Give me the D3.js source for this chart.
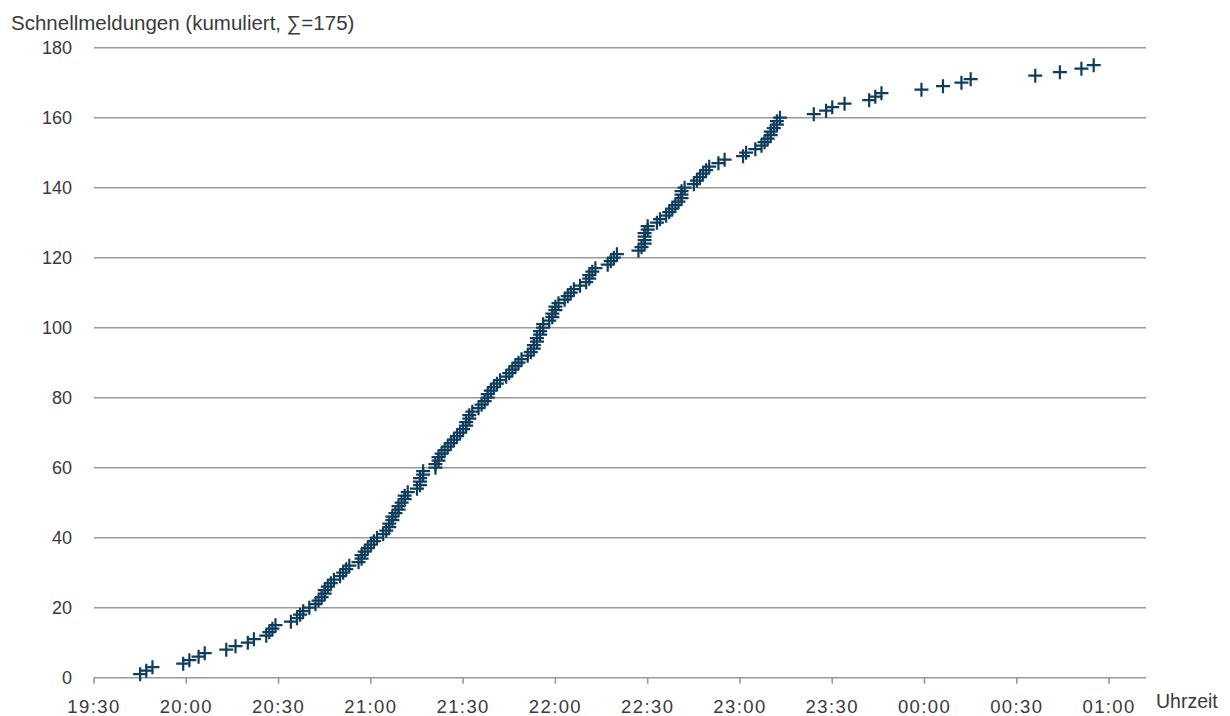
<!DOCTYPE html>
<html>
<head>
<meta charset="utf-8">
<script src="https://cdn.jsdelivr.net/npm/d3@7"></script>
<style>
  body { margin: 0; background: #fff; }
  text { font-family: "Liberation Sans", Arial, sans-serif; fill: #3a3a3a; }
</style>
</head>
<body>
<svg id="chart" width="1230" height="716"></svg>
<script>
//=================================
//  Data
//=================================

//Time of each Schnellmeldung, in order (HH:MM, after midnight = next day)
var reportTimes = [
  "19:45","19:47","19:49","19:59","20:01","20:04","20:06","20:13","20:16","20:20",
  "20:22","20:26","20:27","20:28","20:29","20:34","20:36","20:37","20:38","20:40",
  "20:42","20:43","20:44","20:45","20:45","20:46","20:47","20:48","20:50","20:51",
  "20:52","20:53","20:56","20:57","20:57","20:58","20:59","21:00","21:01","21:02",
  "21:04","21:05","21:06","21:06","21:07","21:07","21:08","21:09","21:09","21:10",
  "21:11","21:11","21:12","21:15","21:16","21:16","21:16","21:17","21:17","21:21",
  "21:21","21:22","21:22","21:23","21:24","21:25","21:26","21:27","21:28","21:29",
  "21:30","21:31","21:31","21:32","21:32","21:33","21:35","21:36","21:37","21:38",
  "21:38","21:39","21:40","21:41","21:42","21:44","21:45","21:46","21:47","21:48",
  "21:49","21:51","21:52","21:53","21:53","21:54","21:54","21:55","21:55","21:56",
  "21:56","21:58","21:59","21:59","22:00","22:00","22:01","22:03","22:04","22:05",
  "22:06","22:08","22:10","22:11","22:11","22:12","22:13","22:17","22:18","22:19",
  "22:20","22:27","22:28","22:29","22:29","22:29","22:29","22:30","22:30","22:33",
  "22:34","22:36","22:37","22:38","22:39","22:40","22:41","22:41","22:41","22:42",
  "22:45","22:46","22:47","22:48","22:49","22:50","22:53","22:55","23:01","23:02",
  "23:05","23:07","23:08","23:09","23:10","23:10","23:11","23:12","23:12","23:13",
  "23:24","23:28","23:30","23:34","23:42","23:44","23:46","23:59","00:06","00:12",
  "00:15","00:36","00:44","00:51","00:55"
];

var yTicks = [0, 20, 40, 60, 80, 100, 120, 140, 160, 180];
var xTickLabels = ["19:30","20:00","20:30","21:00","21:30","22:00","22:30","23:00","23:30","00:00","00:30","01:00"];
var xRange = ["19:30", "01:12"];//Axis runs a bit past the last label

var titleText = "Schnellmeldungen (kumuliert, \u2211=175)";
var xAxisTitle = "Uhrzeit";

//=================================
//  Helpers
//=================================

//Minutes since midnight, times before noon belong to the next day
function toMinutes(s) {
  var p = s.split(":");
  var m = +p[0] * 60 + +p[1];
  if (m < 12 * 60) m += 24 * 60;
  return m;
}

//Cumulative count: the n-th report sits at height n
var points = reportTimes.map(function(t, i) {
  return { t: toMinutes(t), n: i + 1 };
});

//=================================
//  Canvas and scales
//=================================

var width = 1230, height = 716;
var margin = { top: 47.7, right: 84, bottom: 38.3, left: 94 };

var svg = d3.select("#chart");

var x = d3.scaleLinear()
  .domain(xRange.map(toMinutes))
  .range([margin.left, width - margin.right]);

var y = d3.scaleLinear()
  .domain([0, 180])
  .range([height - margin.bottom, margin.top]);

var gridColor = "#999";
var markColor = "#0f3d5e";

//Horizontal gridlines (0 line doubles as the x axis)
svg.append("g")
  .selectAll("line")
  .data(yTicks)
  .join("line")
    .attr("x1", x.range()[0])
    .attr("x2", x.range()[1])
    .attr("y1", function(d) { return y(d); })
    .attr("y2", function(d) { return y(d); })
    .attr("stroke", gridColor)
    .attr("stroke-width", 1.6);

//Y labels
svg.append("g")
  .selectAll("text")
  .data(yTicks)
  .join("text")
    .attr("x", 72)
    .attr("y", function(d) { return y(d); })
    .attr("dy", "0.36em")
    .attr("text-anchor", "end")
    .attr("font-size", 18)
    .text(function(d) { return d; });

//X axis ticks and labels
var xTickVals = xTickLabels.map(toMinutes);

svg.append("g")
  .selectAll("line")
  .data(xTickVals)
  .join("line")
    .attr("x1", function(d) { return x(d); })
    .attr("x2", function(d) { return x(d); })
    .attr("y1", y(0))
    .attr("y2", y(0) + 6)
    .attr("stroke", gridColor)
    .attr("stroke-width", 1.6);

svg.append("g")
  .selectAll("text")
  .data(xTickLabels)
  .join("text")
    .attr("x", function(d) { return x(toMinutes(d)); })
    .attr("y", 712.5)
    .attr("text-anchor", "middle")
    .attr("font-size", 18.5)
    .attr("letter-spacing", 1.4)
    .text(function(d) { return d; });

//Axis titles
svg.append("text")
  .attr("x", 1156)
  .attr("y", 708)
  .attr("font-size", 19.5)
  .text(xAxisTitle);

svg.append("text")
  .attr("x", 11)
  .attr("y", 30)
  .attr("font-size", 20.5)
  .text(titleText);

//=================================
//  Markers ("+")
//=================================
var arm = 7;
svg.append("g")
  .selectAll("path")
  .data(points)
  .join("path")
    .attr("transform", function(d) { return "translate(" + x(d.t) + "," + y(d.n) + ")"; })
    .attr("d", "M" + (-arm) + ",0H" + arm + "M0," + (-arm) + "V" + arm)
    .attr("stroke", markColor)
    .attr("stroke-width", 2.2)
    .attr("fill", "none");
</script>
</body>
</html>
